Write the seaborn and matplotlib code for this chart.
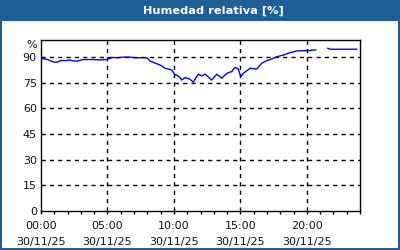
import numpy as np
import pandas as pd
import matplotlib
matplotlib.use("Agg")
import matplotlib.pyplot as plt
from matplotlib.patches import Rectangle
import seaborn as sns

# ---- data (hours since 00:00, relative humidity %) ----
hours_a = [0, 0.23, 0.53, 0.83, 1.05, 1.28, 1.5, 1.88, 2.18, 2.41, 2.78, 3.09,
           3.69, 4.44, 4.89, 5.19, 5.42, 5.79, 6.17, 6.70, 7.07, 7.67, 7.98,
           8.20, 8.58, 8.95, 9.33, 9.83, 10.05, 10.31, 10.46, 10.59, 10.84,
           11.06, 11.21, 11.46, 11.66, 11.84, 12.09, 12.34, 12.57, 12.84,
           13.22, 13.39, 13.60, 13.84, 14.09, 14.35, 14.60, 14.85, 15.03,
           15.22, 15.48, 15.73, 16.23, 16.61, 16.98, 17.23, 17.74, 18.23,
           18.74, 19.24, 19.99, 20.69]
hum_a = [89, 89, 88.5, 87.5, 87, 87.2, 88, 88, 88.3, 87.8, 87.7, 88.5,
         88.6, 88.4, 88.5, 89.3, 89.8, 89.6, 90, 90, 89.6, 89.7, 89.5,
         87.7, 86.5, 85.4, 83.5, 82.5, 80, 79, 78, 76.6, 78,
         77.5, 77, 75.3, 78, 80, 79, 80, 78.5, 76.6,
         80, 79, 77.6, 79.5, 80.9, 81.5, 84, 82.9, 78.5,
         80.5, 82, 83.5, 83, 86.4, 87.9, 88.5, 90.2, 91.2,
         92.6, 93.6, 93.8, 94.2]
hours_b = [21.56, 21.75, 23.78]
hum_b = [95.2, 94.6, 94.6]

x_ticks = [0, 5, 10, 15, 20]
x_labels = ["00:00\n30/11/25", "05:00\n30/11/25", "10:00\n30/11/25",
            "15:00\n30/11/25", "20:00\n30/11/25"]
y_ticks = [0, 15, 30, 45, 60, 75, 90]
title = "Humedad relativa [%]"

df = pd.DataFrame({
    "hora": hours_a + hours_b,
    "hum": hum_a + hum_b,
    "seg": [0] * len(hours_a) + [1] * len(hours_b),
})

sns.set_theme(style="white")
plt.rcParams["font.family"] = ["DejaVu Sans"]

W, H = 400, 250
fig = plt.figure(figsize=(W / 100, H / 100), dpi=100)
fig.patch.set_facecolor("white")

bar_col = "#1f5f98"
# title bar and frame
fig.patches.append(Rectangle((0, 1 - 21 / H), 1, 21 / H, transform=fig.transFigure,
                             facecolor=bar_col, edgecolor="none", zorder=0))
fig.patches.append(Rectangle((0, 0), 1.5 / W, 1, transform=fig.transFigure,
                             facecolor=bar_col, edgecolor="none", zorder=0))
fig.patches.append(Rectangle((1 - 2 / W, 0), 2 / W, 1, transform=fig.transFigure,
                             facecolor=bar_col, edgecolor="none", zorder=0))
fig.patches.append(Rectangle((0, 0), 1, 2 / H, transform=fig.transFigure,
                             facecolor=bar_col, edgecolor="none", zorder=0))
fig.text(213 / W, 1 - 10.5 / H, title, color="white", fontsize=8.2,
         fontweight="bold", ha="center", va="center")

left, right, top, bottom = 41, 360, 40, 211
ax = fig.add_axes([left / W, 1 - bottom / H, (right - left) / W, (bottom - top) / H])
ax.set_facecolor("white")

sns.lineplot(data=df, x="hora", y="hum", units="seg", estimator=None,
             color="#0000ff", linewidth=1.0, ax=ax, zorder=3)

ax.set_xlim(0, 24)
ax.set_ylim(0, 100)
ax.set_xticks(x_ticks)
ax.set_xticklabels(x_labels, fontsize=8, linespacing=1.65, color="#101020")
ax.set_xticks(np.arange(0, 25, 1), minor=True)
ax.set_yticks(y_ticks)
ax.set_yticklabels([str(v) for v in y_ticks], fontsize=8, color="#101020")
ax.tick_params(axis="x", which="both", direction="out", length=2.5, width=1,
               color="black", pad=5, bottom=True)
ax.tick_params(axis="y", length=0, pad=3)
ax.set_xlabel("")
ax.set_ylabel("")

for v in [5, 10, 15, 20]:
    ax.axvline(v, color="black", linewidth=1, linestyle=(0, (3, 3)), zorder=1)
for v in [15, 30, 45, 60, 75, 90]:
    ax.axhline(v, color="black", linewidth=1, linestyle=(0, (3, 3)), zorder=1)

for s in ax.spines.values():
    s.set_visible(True)
    s.set_color("black")
    s.set_linewidth(1)

fig.text(37 / W, 1 - 45.5 / H, "%", fontsize=8, ha="right", va="center",
         color="#101020")

fig.savefig("out.png", dpi=100, facecolor="white")
